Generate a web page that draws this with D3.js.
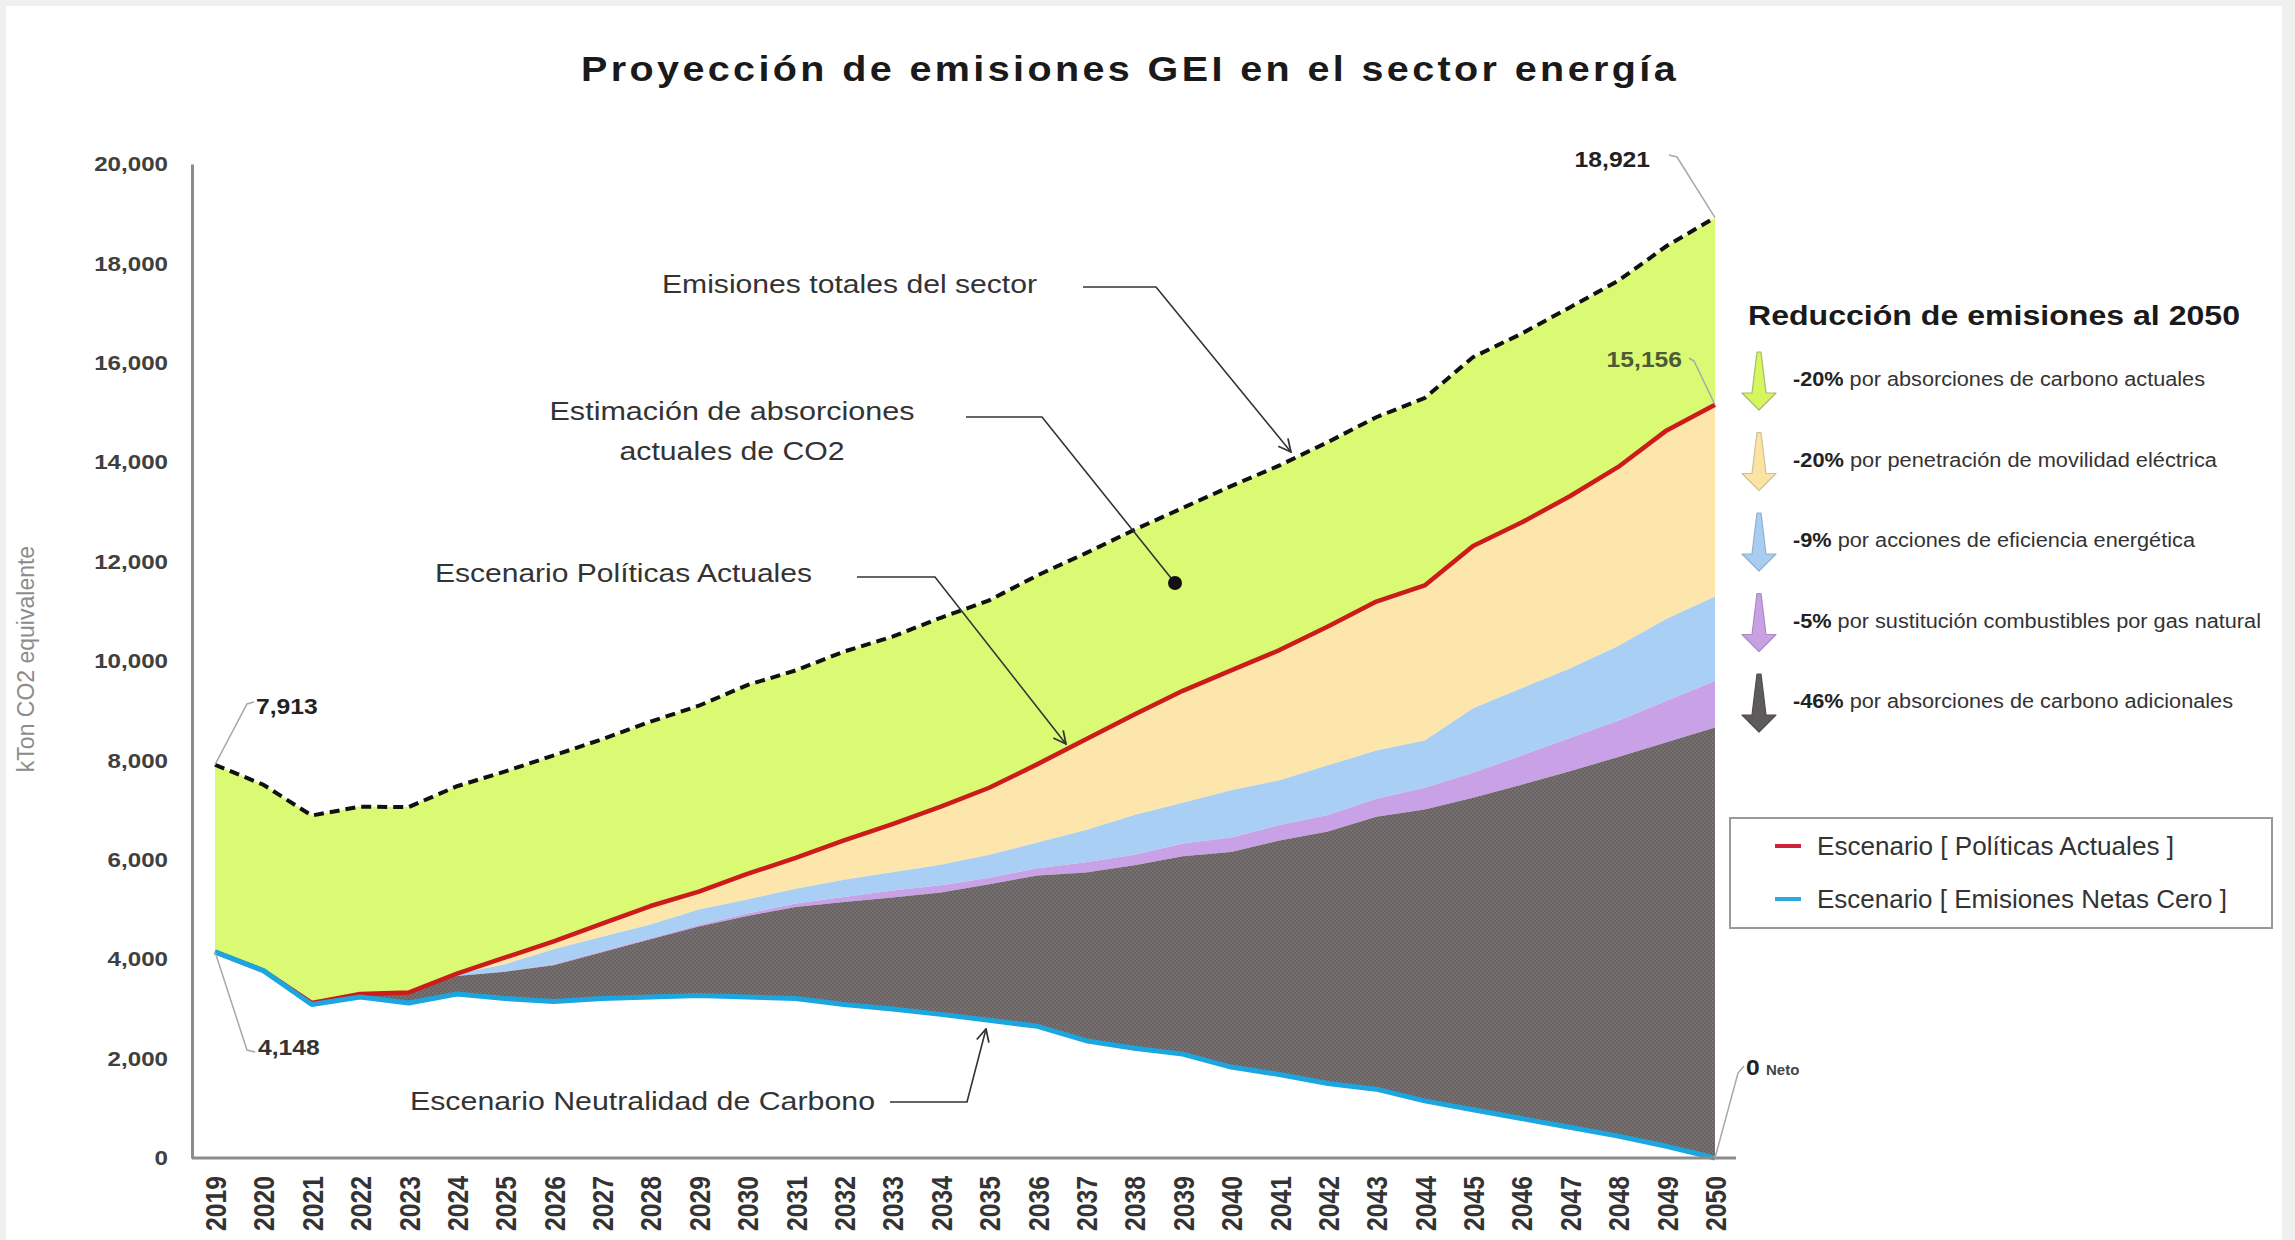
<!doctype html>
<html>
<head>
<meta charset="UTF-8">
<title>Proyección de emisiones GEI en el sector energía</title>
<script src="https://d3js.org/d3.v7.min.js"></script>
<style>
  body { margin: 0; background: #f0f0f0; }
  svg { display: block; font-family: "Liberation Sans", Arial, sans-serif; }
</style>
</head>
<body>
<svg id="chart" width="2295" height="1240"></svg>
<script>
// ---- datos (kTon CO2 eq) ----
var years = [2019, 2020, 2021, 2022, 2023, 2024, 2025, 2026, 2027, 2028, 2029, 2030, 2031, 2032, 2033, 2034,
             2035, 2036, 2037, 2038, 2039, 2040, 2041, 2042, 2043, 2044, 2045, 2046, 2047, 2048, 2049, 2050];

// emisiones totales del sector (linea punteada)
var total = [7913, 7510, 6890, 7070, 7060, 7480, 7780, 8100, 8425, 8780, 9100, 9515, 9810, 10190, 10490, 10870,
             11220, 11725, 12170, 12640, 13080, 13520, 13935, 14405, 14905, 15290, 16115, 16585, 17115, 17650, 18350, 18921];

// escenario politicas actuales (linea roja)
var politicas = [4148, 3770, 3120, 3300, 3330, 3710, 4035, 4360, 4715, 5070, 5360, 5715, 6040, 6390, 6720, 7070,
                 7450, 7925, 8425, 8925, 9400, 9810, 10220, 10695, 11195, 11520, 12315, 12785, 13315, 13905, 14640, 15156];

// escenario emisiones netas cero (linea azul)
var netaCero = [4148, 3770, 3090, 3240, 3120, 3300, 3210, 3150, 3210, 3240, 3270, 3240, 3210, 3090, 3000, 2890,
                2770, 2650, 2360, 2210, 2090, 1830, 1680, 1500, 1385, 1150, 970, 795, 620, 440, 235, 0];

// bordes superiores de las franjas de reduccion
var topAbsorcion = [4148, 3770, 3120, 3300, 3330, 3660, 3750, 3880, 4140, 4400, 4660, 4870, 5050, 5150, 5240, 5340,
                    5510, 5685, 5745, 5890, 6070, 6155, 6390, 6570, 6865, 7010, 7250, 7510, 7780, 8070, 8365, 8660];
var topGasNatural = [4148, 3770, 3120, 3300, 3330, 3660, 3750, 3900, 4160, 4420, 4690, 4920, 5120, 5250, 5380, 5490,
                     5640, 5830, 5950, 6100, 6330, 6450, 6700, 6900, 7230, 7450, 7750, 8100, 8450, 8800, 9200, 9600];
var topEficiencia = [4148, 3770, 3120, 3300, 3330, 3700, 3900, 4200, 4450, 4700, 5000, 5200, 5420, 5600, 5750, 5900,
                     6100, 6350, 6600, 6900, 7150, 7400, 7600, 7900, 8200, 8400, 9050, 9450, 9850, 10300, 10850, 11300];

var yTicks = [0, 2000, 4000, 6000, 8000, 10000, 12000, 14000, 16000, 18000, 20000];

var reduccionPct = ["-20%", "-20%", "-9%", "-5%", "-46%"];
var reduccionTxt = [" por absorciones de carbono actuales",
                    " por penetración de movilidad eléctrica",
                    " por acciones de eficiencia energética",
                    " por sustitución combustibles por gas natural",
                    " por absorciones de carbono adicionales"];
var leyendaTxt = ["Escenario [ Políticas Actuales ]", "Escenario [ Emisiones Netas Cero ]"];

// ---- estilos ----
var FONT = '"Liberation Sans", Arial, sans-serif';
var colFranja = ["#dafa74", "#fde6ab", "#a9d0f4", "#c9a1e6", "url(#dots)"];
var colFlecha = ["#d5f65e", "#fde3a2", "#a9cdf1", "#caa0e5", "#5f5b5b"];
var colFlechaBorde = ["#a9b86c", "#cdc29c", "#8fb0cf", "#a98bbf", "#4f4c4c"];
var largoReduccion = [412, 424, 402, 468, 440];
var colLeyenda = ["#d0213a", "#29abe2"];
var largoLeyenda = [357, 410];

var svg = d3.select("#chart");
var fmt = d3.format(",");

svg.append("rect").attr("x", 6).attr("y", 6).attr("width", 2276).attr("height", 1240).attr("fill", "#fff");

var x = d3.scalePoint().domain(years).range([215, 1715]);
var y = d3.scaleLinear().domain([0, 20000]).range([1158, 164]);

var defs = svg.append("defs");
var pat = defs.append("pattern").attr("id", "dots").attr("width", 4).attr("height", 4)
  .attr("patternUnits", "userSpaceOnUse");
pat.append("rect").attr("width", 4).attr("height", 4).attr("fill", "#6a6363");
pat.append("rect").attr("width", 1.5).attr("height", 1.5).attr("fill", "#807a7a");
pat.append("rect").attr("x", 2).attr("y", 2).attr("width", 1.5).attr("height", 1.5).attr("fill", "#807a7a");

defs.append("marker").attr("id", "flecha").attr("viewBox", "0 0 12 12")
  .attr("refX", 11).attr("refY", 6).attr("markerWidth", 15).attr("markerHeight", 15)
  .attr("markerUnits", "userSpaceOnUse").attr("orient", "auto")
  .append("path").attr("d", "M1,1 L11,6 L1,11").attr("fill", "none")
  .attr("stroke", "#333").attr("stroke-width", 1.4);

// estira el texto horizontalmente (la imagen original esta ensanchada)
function fit(sel, k) {
  sel.each(function () {
    var w = this.getComputedTextLength();
    d3.select(this).attr("textLength", w * k).attr("lengthAdjust", "spacingAndGlyphs");
  });
}

// ---- franjas ----
var bordes = [[politicas, total], [topEficiencia, politicas], [topGasNatural, topEficiencia],
              [topAbsorcion, topGasNatural], [netaCero, topAbsorcion]];
bordes.forEach(function (b, k) {
  var area = d3.area()
    .x(function (d, i) { return x(years[i]); })
    .y0(function (d, i) { return y(b[0][i]); })
    .y1(function (d, i) { return y(b[1][i]); });
  svg.append("path").datum(years).attr("d", area).attr("fill", colFranja[k]);
});

// ---- lineas ----
var linea = d3.line().x(function (d, i) { return x(years[i]); }).y(function (d) { return y(d); });
svg.append("path").attr("d", linea(politicas)).attr("fill", "none")
  .attr("stroke", "#cc1b1b").attr("stroke-width", 4.5).attr("stroke-linejoin", "round");
svg.append("path").attr("d", linea(netaCero)).attr("fill", "none")
  .attr("stroke", "#1ba6e0").attr("stroke-width", 5).attr("stroke-linejoin", "round");
svg.append("path").attr("d", linea(total)).attr("fill", "none")
  .attr("stroke", "#111").attr("stroke-width", 4).attr("stroke-dasharray", "10,6");

// ---- ejes ----
var yAxis = svg.append("g").attr("transform", "translate(192,0)")
  .call(d3.axisLeft(y).tickValues(yTicks).tickSize(0).tickPadding(24).tickFormat(fmt));
yAxis.attr("font-family", FONT).attr("font-size", 21).attr("font-weight", "bold");
yAxis.select(".domain").attr("stroke", "#8c8c8c").attr("stroke-width", 3);
yAxis.selectAll("text").attr("fill", "#404040");
fit(yAxis.selectAll("text"), 1.15);

svg.append("line").attr("x1", 192).attr("x2", 1736).attr("y1", y(0)).attr("y2", y(0))
  .attr("stroke", "#8c8c8c").attr("stroke-width", 3);

var xAxis = svg.append("g").attr("transform", "translate(0," + y(0) + ")")
  .call(d3.axisBottom(x).tickSize(0));
xAxis.select(".domain").remove();
xAxis.attr("font-family", FONT).attr("font-size", 30).attr("font-weight", "bold");
xAxis.selectAll("text")
  .attr("transform", "rotate(-90)").attr("x", -18).attr("y", 0).attr("dy", "0.35em")
  .attr("text-anchor", "end").attr("fill", "#333")
  .attr("textLength", 55).attr("lengthAdjust", "spacingAndGlyphs");

svg.append("text").attr("transform", "translate(34,659) rotate(-90)")
  .attr("text-anchor", "middle").attr("font-size", 23).attr("fill", "#8c8c8c")
  .text("kTon CO2 equivalente");

// ---- titulo ----
svg.append("text").attr("x", 1130).attr("y", 81).attr("text-anchor", "middle")
  .attr("font-size", 35).attr("font-weight", "bold").attr("fill", "#1a1a1a")
  .attr("letter-spacing", 3)
  .attr("textLength", 1098).attr("lengthAdjust", "spacingAndGlyphs")
  .text("Proyección de emisiones GEI en el sector energía");

// ---- anotaciones con flecha ----
function nota(lines, tx, anchor, baselines, lens, path, punta) {
  lines.forEach(function (t, i) {
    svg.append("text").attr("x", tx).attr("y", baselines[i]).attr("text-anchor", anchor)
      .attr("font-size", 26).attr("fill", "#333")
      .attr("textLength", lens[i]).attr("lengthAdjust", "spacingAndGlyphs").text(t);
  });
  var p = svg.append("path").attr("d", d3.line()(path)).attr("fill", "none")
    .attr("stroke", "#333").attr("stroke-width", 1.6);
  if (punta === "flecha") p.attr("marker-end", "url(#flecha)");
  else {
    var last = path[path.length - 1];
    svg.append("circle").attr("cx", last[0]).attr("cy", last[1]).attr("r", 7).attr("fill", "#111");
  }
}
nota(["Emisiones totales del sector"], 662, "start", [293], [375],
     [[1083, 287], [1156, 287], [1291, 452]], "flecha");
nota(["Estimación de absorciones", "actuales de CO2"], 732, "middle", [420, 460], [365, 225],
     [[966, 417], [1042, 417], [1175, 583]], "punto");
nota(["Escenario Políticas Actuales"], 435, "start", [582], [377],
     [[857, 577], [935, 577], [1066, 744]], "flecha");
nota(["Escenario Neutralidad de Carbono"], 410, "start", [1110], [465],
     [[890, 1102], [967, 1102], [986, 1029]], "flecha");

// ---- etiquetas de valores ----
var last = years.length - 1;
function valor(txt, tx, ty, anchor, fill, path) {
  svg.append("path").attr("d", d3.line()(path)).attr("fill", "none")
    .attr("stroke", "#a8a8a8").attr("stroke-width", 1.5);
  var t = svg.append("text").attr("x", tx).attr("y", ty).attr("text-anchor", anchor)
    .attr("font-size", 22).attr("font-weight", "bold").attr("fill", fill).text(txt);
  fit(t, 1.12);
  return t;
}
valor(fmt(total[0]), 256, 714, "start", "#222",
      [[x(years[0]), y(total[0])], [247, 704], [254, 702]]);
valor(fmt(netaCero[0]), 258, 1055, "start", "#333",
      [[x(years[0]), y(netaCero[0])], [247, 1050], [255, 1052]]);
valor(fmt(total[last]), 1650, 167, "end", "#222",
      [[1669, 155], [1677, 157], [x(years[last]), y(total[last])]]);
valor(fmt(politicas[last]), 1682, 367, "end", "#4f5a38",
      [[1689, 358], [1694, 361], [x(years[last]), y(politicas[last])]]);
valor(fmt(netaCero[last]), 1746, 1075, "start", "#222",
      [[x(years[last]), y(netaCero[last])], [1738, 1073], [1744, 1066]]);
svg.append("text").attr("x", 1766).attr("y", 1075).attr("font-size", 15)
  .attr("font-weight", "bold").attr("fill", "#444").text("Neto");

// ---- panel de reduccion ----
svg.append("text").attr("x", 1748).attr("y", 325).attr("font-size", 28).attr("font-weight", "bold")
  .attr("fill", "#1a1a1a").attr("textLength", 492).attr("lengthAdjust", "spacingAndGlyphs")
  .text("Reducción de emisiones al 2050");

reduccionPct.forEach(function (pct, i) {
  var cx = 1759, ty = 352 + i * 80.5;
  var d = "M" + (cx - 2) + "," + ty + " L" + (cx + 2) + "," + ty +
          " L" + (cx + 7) + "," + (ty + 41) + " L" + (cx + 17) + "," + (ty + 41) +
          " L" + cx + "," + (ty + 58) + " L" + (cx - 17) + "," + (ty + 41) +
          " L" + (cx - 7) + "," + (ty + 41) + " Z";
  svg.append("path").attr("d", d).attr("fill", colFlecha[i])
    .attr("stroke", colFlechaBorde[i]).attr("stroke-width", 1.2).attr("stroke-linejoin", "round");
  var t = svg.append("text").attr("x", 1793).attr("y", 386 + i * 80.5).attr("font-size", 20)
    .attr("textLength", largoReduccion[i]).attr("lengthAdjust", "spacingAndGlyphs");
  t.append("tspan").attr("font-weight", "bold").attr("fill", "#222").text(pct);
  t.append("tspan").attr("fill", "#333").text(reduccionTxt[i]);
});

// ---- leyenda ----
svg.append("rect").attr("x", 1730).attr("y", 818).attr("width", 542).attr("height", 110)
  .attr("fill", "#fff").attr("stroke", "#9a9a9a").attr("stroke-width", 2);
leyendaTxt.forEach(function (t, i) {
  var yy = 846 + i * 53;
  svg.append("line").attr("x1", 1775).attr("x2", 1801).attr("y1", yy).attr("y2", yy)
    .attr("stroke", colLeyenda[i]).attr("stroke-width", 4);
  svg.append("text").attr("x", 1817).attr("y", yy + 9).attr("font-size", 26).attr("fill", "#333")
    .attr("textLength", largoLeyenda[i]).attr("lengthAdjust", "spacingAndGlyphs").text(t);
});
</script>
</body>
</html>
